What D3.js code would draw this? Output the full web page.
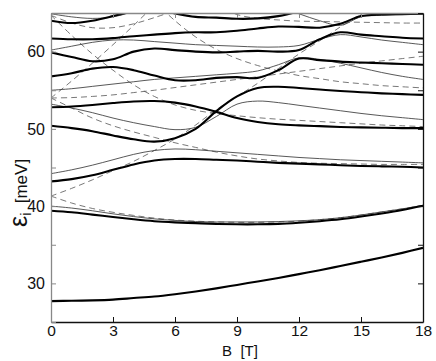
<!DOCTYPE html>
<html>
<head>
<meta charset="utf-8">
<script src="https://cdn.jsdelivr.net/npm/d3@7"></script>
<style>
  body { margin: 0; background: #fff; }
  #chart { width: 436px; height: 361px; }
</style>
</head>
<body>
<div id="chart"></div>
<script>
// magnetic field samples (T)
const fieldB = [0,1,2,3,4,5,6,7,8,9,10,11,12,13,14,15,16,17,18];
const xTicks = [0,3,6,9,12,15,18];
const yTicks = [30,40,50,60];

// thick levels
const thick1 = [27.7,27.75,27.8,27.9,28.1,28.3,28.6,28.95,29.35,29.8,30.25,30.7,31.2,31.7,32.25,32.8,33.35,33.95,34.6];
const thick2 = [39.4,39.2,38.9,38.6,38.3,38.05,37.9,37.8,37.7,37.65,37.65,37.7,37.85,38.05,38.3,38.65,39.05,39.5,40.05];
const thick3 = [43.2,43.5,44.0,44.7,45.4,45.9,46.1,46.1,46.0,45.9,45.75,45.6,45.5,45.4,45.3,45.2,45.15,45.1,45.0];
const thick4 = [50.4,50.1,49.7,49.15,48.65,48.35,48.8,50.0,52.3,54.2,55.3,55.45,55.3,55.1,54.9,54.75,54.6,54.5,54.4];
const thick5 = [52.8,52.9,53.1,53.35,53.55,53.6,53.4,52.9,52.2,51.4,50.9,50.6,50.45,50.35,50.25,50.2,50.15,50.1,50.1];
const thick6 = [56.8,57.2,57.8,58.0,57.6,56.9,56.3,56.3,56.6,56.7,56.6,57.6,59.1,58.9,58.7,58.6,58.5,58.4,58.3];
const thick7 = [59.9,59.3,58.75,59.0,60.0,60.4,60.2,60.0,59.9,60.0,60.1,60.0,60.2,61.6,62.5,62.2,62.0,61.8,61.7];
const thick8 = [61.7,61.6,61.6,61.75,62.0,62.2,62.4,62.5,62.5,62.7,63.0,63.25,63.2,63.1,63.6,64.6,64.8,64.85,64.9];
const thick9 = [64.0,63.7,64.0,64.6,65.3,66.2,null,null,null,null,null,null,null,null,null,null,null,null,null];
const thick10 = [null,null,null,null,null,65.6,64.95,64.5,64.4,64.25,64.3,64.6,65.2,66.0,null,null,null,null,null];

// thin levels
const thin2 = [40.0,39.75,39.4,39.0,38.65,38.35,38.15,38.0,37.95,37.95,37.95,38.0,38.1,38.25,38.5,38.85,39.25,39.65,40.1];
const thin3 = [44.2,44.7,45.3,46.0,46.7,47.2,47.4,47.3,47.1,46.9,46.7,46.5,46.3,46.15,46.0,45.9,45.8,45.7,45.6];
const thin5 = [53.2,52.7,52.1,51.4,50.8,50.3,49.9,50.2,51.6,53.2,53.6,53.4,53.05,52.7,52.35,52.0,51.7,51.45,51.2];
const thin6 = [55.0,55.2,55.5,55.8,56.1,56.4,56.6,56.8,57.0,57.2,57.5,58.3,59.2,59.0,58.5,57.9,57.3,56.8,56.4];
const thin7 = [60.2,60.7,61.2,61.5,61.5,61.3,61.1,60.9,60.8,60.7,60.6,60.6,60.8,61.6,62.2,61.9,61.5,61.2,60.9];
const thin8 = [64.9,64.5,64.3,64.5,65.2,null,null,null,null,null,null,65.8,64.9,64.0,63.4,64.5,64.7,64.8,64.85];

// dashed (uncoupled) levels
const dash1 = [41.3,42.3,43.4,44.6,45.8,47.2,48.7,50.5,52.5,54.2,55.9,57.8,59.7,61.4,63.2,64.9,66.7,null,null];
const dash2 = [41.3,40.4,39.7,39.2,38.8,38.45,38.2,38.05,37.95,37.9,37.9,37.95,38.05,38.25,38.5,38.85,39.25,39.65,40.1];
const dash3 = [54.0,52.7,51.4,50.4,49.6,48.9,48.2,47.6,47.0,46.5,46.1,45.85,45.65,45.55,45.5,45.45,45.4,45.4,45.4];
const dash4 = [64.7,62.1,59.7,57.6,55.7,54.2,53.1,52.4,52.0,51.7,51.45,51.25,51.1,50.95,50.8,50.65,50.5,50.4,50.3];
const dash5 = [null,null,null,null,null,66.5,64.0,61.9,60.3,59.1,58.2,57.5,56.9,56.5,56.1,55.85,55.6,55.45,55.3];
const dash6 = [null,null,null,null,null,null,null,null,66.0,64.8,64.3,64.1,63.95,63.9,63.85,63.8,63.75,63.7,63.7];
const dash7 = [54.0,54.05,54.2,54.4,54.7,55.0,55.35,55.7,56.05,56.4,56.75,57.1,57.45,57.8,58.15,58.5,58.8,59.1,59.4];
const dash8 = [54.0,56.2,58.5,60.9,63.4,66.0,null,null,null,null,null,null,null,null,null,null,null,null,null];
const dash9 = [64.7,63.7,63.1,63.1,63.6,64.4,65.3,null,null,null,null,null,null,null,null,null,null,null,null];

const thickSeries = [thick1, thick2, thick3, thick4, thick5, thick6, thick7, thick8, thick9, thick10];
const thinSeries = [thin2, thin3, thin5, thin6, thin7, thin8];
const dashSeries = [dash1, dash2, dash3, dash4, dash5, dash6, dash7, dash8, dash9];

const width = 436, height = 361;
const margin = { top: 13, right: 13, bottom: 39, left: 51 };

const svg = d3.select('#chart').append('svg')
  .attr('width', width)
  .attr('height', height)
  .style('font-family', '"Liberation Sans", Arial, sans-serif');

const x = d3.scaleLinear().domain([0, 18]).range([margin.left, width - margin.right]);
const y = d3.scaleLinear().domain([25, 65]).range([height - margin.bottom, margin.top]);

svg.append('clipPath').attr('id', 'plotClip')
  .append('rect')
  .attr('x', margin.left).attr('y', margin.top)
  .attr('width', x(18) - x(0)).attr('height', y(25) - y(65));

const line = d3.line()
  .defined(d => d[1] != null)
  .x(d => x(d[0]))
  .y(d => y(d[1]))
  .curve(d3.curveCatmullRom.alpha(0.5));

const toPts = s => fieldB.map((b, i) => [b, s[i]]);

const plot = svg.append('g').attr('clip-path', 'url(#plotClip)');

// dashed first, then thin, thick on top
plot.selectAll('.dash').data(dashSeries).join('path')
  .attr('d', s => line(toPts(s)))
  .attr('fill', 'none')
  .attr('stroke', '#555')
  .attr('stroke-width', 0.8)
  .attr('stroke-dasharray', '6,4');

plot.selectAll('.thin').data(thinSeries).join('path')
  .attr('d', s => line(toPts(s)))
  .attr('fill', 'none')
  .attr('stroke', '#3a3a3a')
  .attr('stroke-width', 0.85);

plot.selectAll('.thick').data(thickSeries).join('path')
  .attr('d', s => line(toPts(s)))
  .attr('fill', 'none')
  .attr('stroke', '#000')
  .attr('stroke-width', 2.1);

// axes box with inward ticks
const tickLen = 5;
const xAxisB = d3.axisBottom(x).tickValues(xTicks).tickSizeInner(-tickLen).tickSizeOuter(0).tickPadding(3);
const xAxisT = d3.axisTop(x).tickValues(xTicks).tickSizeInner(-tickLen).tickSizeOuter(0).tickFormat('');
const yMinor = d3.range(25, 66, 5);
const yAxisL = d3.axisLeft(y).tickValues(yMinor).tickSizeInner(-tickLen).tickSizeOuter(0).tickPadding(6)
  .tickFormat(d => yTicks.includes(d) ? d : '');
const yAxisR = d3.axisRight(y).tickValues(yMinor).tickSizeInner(-tickLen).tickSizeOuter(0).tickFormat('');

function styleAxis(g, col, fs) {
  g.select('.domain').attr('stroke', col).attr('stroke-width', 1.3);
  g.selectAll('.tick line').attr('stroke', col);
  g.selectAll('.tick text').attr('fill', '#111').style('font-size', fs)
    .style('font-family', '"Liberation Sans", Arial, sans-serif');
}

svg.append('g').attr('transform', `translate(0,${y(25)})`).call(xAxisB).call(g => styleAxis(g, '#111', '15.5px'));
svg.append('g').attr('transform', `translate(0,${y(65)})`).call(xAxisT).call(g => styleAxis(g, '#888', '15.5px'));
svg.append('g').attr('transform', `translate(${x(0)},0)`).call(yAxisL).call(g => styleAxis(g, '#888', '16px'));
svg.append('g').attr('transform', `translate(${x(18)},0)`).call(yAxisR).call(g => styleAxis(g, '#111', '16px'));

// axis labels
svg.append('text')
  .attr('x', 240)
  .attr('y', 356)
  .attr('text-anchor', 'middle')
  .style('font-size', '15px')
  .attr('fill', '#111')
  .attr('xml:space', 'preserve')
  .text('B  [T]');

const yl = svg.append('text')
  .attr('transform', 'translate(27,227) rotate(-90)')
  .attr('text-anchor', 'start')
  .attr('fill', '#111')
  .attr('xml:space', 'preserve')
  .style('font-size', '17px');
yl.append('tspan').style('font-size', '25px').text('ε');
yl.append('tspan').attr('dy', 4).style('font-size', '14px').text('i');
yl.append('tspan').attr('dy', -4).text('  [meV]');
</script>
</body>
</html>
